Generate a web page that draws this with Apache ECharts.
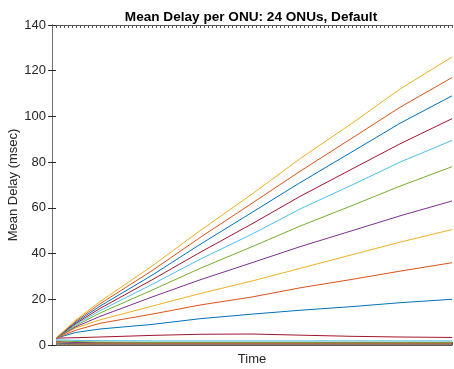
<!DOCTYPE html>
<html>
<head>
<meta charset="utf-8">
<script src="https://cdn.jsdelivr.net/npm/echarts@6/dist/echarts.min.js"></script>
<style>
  html, body { margin: 0; padding: 0; background: #fff; }
  #chart { width: 454px; height: 369px; }
</style>
</head>
<body>
<div id="chart"></div>
<script>
// time samples (axis runs 0..100, no labels)
var timePts = [1, 6, 12, 25, 37, 50, 62, 75, 87, 100];
var yTicks = [0, 20, 40, 60, 80, 100, 120, 140];

// mean delay per ONU (msec), ONU 1 .. ONU 24
var onu1  = [0.4, 0.3, 0.3, 0.3, 0.3, 0.3, 0.3, 0.3, 0.3, 0.3];
var onu2  = [0.5, 0.4, 0.4, 0.4, 0.4, 0.4, 0.4, 0.4, 0.4, 0.4];
var onu3  = [0.6, 0.5, 0.5, 0.5, 0.5, 0.5, 0.5, 0.5, 0.5, 0.5];
var onu4  = [0.7, 0.6, 0.5, 0.5, 0.5, 0.5, 0.5, 0.5, 0.5, 0.5];
var onu5  = [0.8, 0.6, 0.6, 0.6, 0.6, 0.6, 0.6, 0.6, 0.6, 0.6];
var onu6  = [0.9, 0.7, 0.6, 0.6, 0.6, 0.6, 0.6, 0.6, 0.6, 0.6];
var onu7  = [1.0, 0.8, 0.7, 0.7, 0.7, 0.7, 0.7, 0.7, 0.7, 0.7];
var onu8  = [1.1, 0.8, 0.7, 0.7, 0.7, 0.7, 0.7, 0.7, 0.7, 0.7];
var onu9  = [1.2, 0.9, 0.8, 0.8, 0.8, 0.8, 0.8, 0.8, 0.8, 0.8];
var onu10 = [1.3, 1.0, 0.9, 0.9, 0.9, 0.9, 0.9, 0.9, 0.9, 0.9];
var onu11 = [1.5, 1.1, 1.0, 1.0, 1.0, 1.0, 1.0, 1.0, 1.0, 1.0];
var onu12 = [1.8, 1.5, 1.3, 1.2, 1.2, 1.2, 1.2, 1.2, 1.2, 1.2];
var onu13 = [2.3, 2.0, 1.9, 1.8, 1.8, 1.8, 1.8, 1.8, 1.8, 1.8];
var onu14 = [3, 3.2, 3.5, 4.2, 4.7, 4.8, 4.3, 3.8, 3.5, 3.3];
var onu15 = [3, 5.5, 7, 9, 11.5, 13.5, 15.2, 16.8, 18.5, 20];
var onu16 = [3, 6.5, 9.5, 13.5, 17.5, 21, 25, 28.7, 32.3, 36];
var onu17 = [3, 7.5, 11, 17, 22.5, 28, 33.5, 39.5, 45, 50.5];
var onu18 = [3, 8, 12.5, 21, 28.5, 36, 43, 50, 56.5, 63];
var onu19 = [3, 8.5, 14, 24, 33.5, 43, 52, 61, 69.5, 78];
var onu20 = [3, 9, 15, 26.5, 37.5, 48.5, 59.5, 70, 80, 89.5];
var onu21 = [3, 9.5, 16, 28.5, 40.5, 53, 65, 77, 88, 99];
var onu22 = [3, 10, 17, 30.5, 44, 58, 71, 84.5, 97, 109];
var onu23 = [3, 10.5, 18, 32.5, 47, 62, 76, 90.5, 104, 117];
var onu24 = [3, 11, 19, 34.5, 50, 66, 81.5, 97, 112, 126];

var allOnus = [onu1, onu2, onu3, onu4, onu5, onu6, onu7, onu8, onu9, onu10, onu11, onu12,
               onu13, onu14, onu15, onu16, onu17, onu18, onu19, onu20, onu21, onu22, onu23, onu24];

// matlab default color order
var colorOrder = ['#0072BD', '#D95319', '#EDB120', '#7E2F8E', '#77AC30', '#4DBEEE', '#A2142F'];

var axisCol = '#262626';
var fontFam = '"Liberation Sans", Arial, Helvetica, sans-serif';

var chart = echarts.init(document.getElementById('chart'), null, { renderer: 'canvas' });

var series = allOnus.map(function(vals, i) {
    return {
        name: 'ONU ' + (i + 1),
        type: 'line',
        xAxisIndex: 0,
        yAxisIndex: 0,
        showSymbol: false,
        symbol: 'none',
        animation: false,
        lineStyle: { width: 1, color: colorOrder[i % 7] },
        data: vals.map(function(v, k) { return [timePts[k], v]; })
    };
});

function xAx(pos) {
    return {
        type: 'value',
        position: pos,
        min: 0,
        max: 100,
        interval: 1,
        name: pos == 'bottom' ? 'Time' : '',
        nameLocation: 'middle',
        nameGap: 8,
        nameMoveOverlap: false,
        nameTextStyle: { fontFamily: fontFam, fontSize: 13, color: axisCol },
        axisLine: { show: true, onZero: false, lineStyle: { color: '#5a5a5a', width: 1 } },
        axisTick: { show: true, inside: true, length: 3, lineStyle: { color: '#555' } },
        axisLabel: { show: false },
        splitLine: { show: false }
    };
}

function yAx(pos) {
    return {
        type: 'value',
        position: pos,
        min: 0,
        max: 140,
        interval: 20,
        name: pos == 'left' ? 'Mean Delay (msec)' : '',
        nameLocation: 'middle',
        nameGap: 32,
        nameMoveOverlap: false,
        nameTextStyle: { fontFamily: fontFam, fontSize: 13, color: axisCol },
        axisLine: { show: true, lineStyle: { color: '#6e6e6e', width: 1 } },
        axisTick: { show: true, inside: true, length: 4, lineStyle: { color: axisCol } },
        axisLabel: {
            show: pos == 'left',
            fontFamily: fontFam,
            fontSize: 13,
            color: axisCol,
            margin: 6,
            formatter: function(v) { return yTicks.indexOf(v) >= 0 ? String(v) : ''; }
        },
        splitLine: { show: false }
    };
}

var option = {
    backgroundColor: '#fff',
    animation: false,
    title: {
        text: 'Mean Delay per ONU: 24 ONUs, Default',
        left: 246,
        top: 5,
        textAlign: 'center',
        textStyle: { fontFamily: fontFam, fontSize: 13.6, fontWeight: 'bold', color: '#000' }
    },
    grid: { left: 52, right: 2, top: 25, bottom: 24, containLabel: false, outerBoundsMode: 'none' },
    xAxis: [xAx('bottom'), xAx('top')],
    yAxis: [yAx('left'), yAx('right')],
    series: series
};

chart.setOption(option);
</script>
</body>
</html>
